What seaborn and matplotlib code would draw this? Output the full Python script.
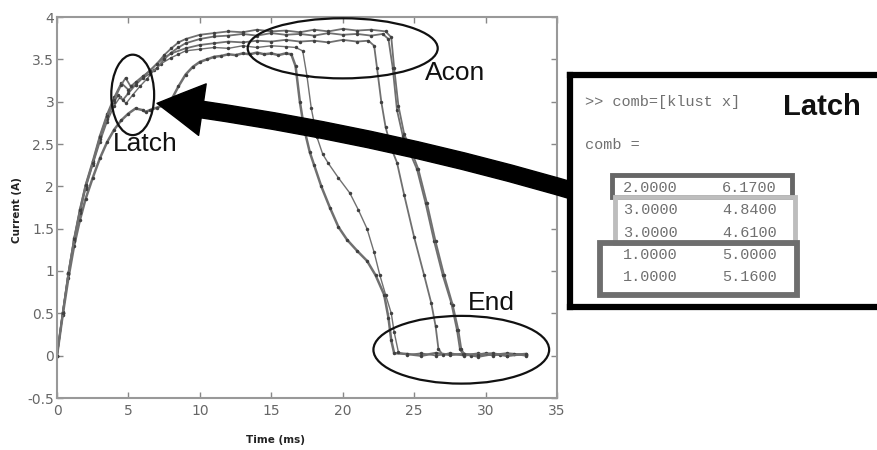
import numpy as np
import pandas as pd
import matplotlib.pyplot as plt
import seaborn as sns
from matplotlib.patches import Ellipse, Rectangle

# 1. Data (time in ms, current in A)

tail_t = [24.5, 25.5, 26.5, 27.5, 28.5, 29.5, 30.5, 31.5, 32.8]

# trace A - drops first (cluster 2, latch 6.17)
t_a = [0, 0.4, 0.8, 1.2, 1.6, 2.0, 2.5, 3.0, 3.5, 4.0, 4.5, 5.0, 5.5, 6.0, 6.2, 6.5,
       7.0, 7.5, 8.0, 8.5, 9.0, 9.5, 10.0, 10.5, 11.0, 11.5, 12.0, 12.5, 13.0, 13.5,
       14.0, 14.5, 15.0, 15.5, 16.0, 16.4, 16.7, 17.0, 17.3, 17.7, 18.0, 18.5, 19.1,
       19.7, 20.3, 21.0, 21.7, 22.3, 22.9, 23.2, 23.4, 23.6] + tail_t
i_a = [0, 0.48, 0.92, 1.30, 1.60, 1.85, 2.10, 2.33, 2.52, 2.67, 2.78, 2.86, 2.92, 2.90, 2.88, 2.90,
       2.93, 2.96, 3.02, 3.18, 3.32, 3.41, 3.47, 3.50, 3.53, 3.54, 3.56, 3.55, 3.57, 3.56,
       3.58, 3.56, 3.57, 3.55, 3.57, 3.56, 3.42, 3.00, 2.68, 2.40, 2.25, 2.00, 1.75,
       1.52, 1.37, 1.24, 1.12, 0.95, 0.72, 0.45, 0.18, 0.03] + [0.02, 0.0, 0.03, 0.01, 0.02, -0.01, 0.02, 0.0, 0.02]

# trace B - thin line (cluster 3, latch 4.84)
t_b = [0, 0.4, 0.8, 1.2, 1.6, 2.0, 2.5, 3.0, 3.5, 4.0, 4.4, 4.84, 5.3, 5.8, 6.3, 6.8,
       7.3, 8.0, 8.5, 9.0, 10.0, 11.0, 12.0, 13.0, 14.0, 15.0, 16.0, 16.7, 17.2, 17.5,
       17.8, 18.2, 18.6, 19.0, 19.7, 20.5, 21.1, 21.7, 22.2, 22.6, 23.0, 23.4, 23.6, 23.9] + tail_t
i_b = [0, 0.50, 0.96, 1.36, 1.68, 1.97, 2.25, 2.52, 2.76, 2.95, 3.05, 2.98, 3.08, 3.18, 3.27, 3.37,
       3.45, 3.52, 3.56, 3.60, 3.62, 3.64, 3.63, 3.66, 3.64, 3.66, 3.65, 3.64, 3.60, 3.30,
       2.92, 2.58, 2.38, 2.27, 2.10, 1.92, 1.72, 1.50, 1.22, 0.95, 0.72, 0.50, 0.28, 0.04] + [0.01, 0.03, 0.0, 0.02, 0.01, 0.03, 0.0, 0.02, 0.01]

# trace C (cluster 3, latch 4.61)
t_c = [0, 0.4, 0.8, 1.2, 1.6, 2.0, 2.5, 3.0, 3.5, 4.0, 4.3, 4.61, 5.0, 5.5, 6.0, 6.5,
       7.0, 7.5, 8.0, 9.0, 10.0, 11.0, 12.0, 13.0, 14.0, 15.0, 16.0, 17.0, 18.0, 19.0,
       20.0, 21.0, 21.8, 22.2, 22.4, 22.7, 23.0, 23.4, 23.8, 24.3, 25.0, 25.7, 26.2,
       26.5, 26.7, 27.0, 27.5, 28.5, 29.5, 30.5, 31.5, 32.8]
i_c = [0, 0.50, 0.97, 1.37, 1.70, 1.99, 2.27, 2.56, 2.80, 3.00, 3.08, 3.02, 3.10, 3.20, 3.29, 3.37,
       3.45, 3.52, 3.57, 3.63, 3.67, 3.69, 3.71, 3.70, 3.72, 3.71, 3.73, 3.71, 3.72, 3.70,
       3.73, 3.71, 3.72, 3.66, 3.40, 3.00, 2.70, 2.45, 2.28, 1.90, 1.40, 0.95, 0.62,
       0.35, 0.08, 0.01, 0.03, 0.0, 0.02, 0.01, 0.03, 0.01]

# trace D (cluster 1, latch 5.00)
t_d = [0, 0.4, 0.8, 1.2, 1.6, 2.0, 2.5, 3.0, 3.5, 4.0, 4.5, 5.0, 5.5, 6.0, 6.5, 7.0,
       7.5, 8.0, 8.5, 9.0, 10.0, 11.0, 12.0, 13.0, 14.0, 15.0, 16.0, 17.0, 18.0, 19.0,
       20.0, 21.0, 22.0, 22.8, 23.2, 23.5, 23.8, 24.2, 24.7, 25.2, 25.8, 26.4, 27.0,
       27.6, 28.0, 28.2, 28.4, 29.0, 30.0, 31.0, 32.0, 32.8]
i_d = [0, 0.51, 0.98, 1.39, 1.73, 2.02, 2.30, 2.60, 2.85, 3.05, 3.22, 3.14, 3.20, 3.28, 3.33, 3.40,
       3.50, 3.58, 3.64, 3.69, 3.74, 3.77, 3.78, 3.80, 3.78, 3.81, 3.79, 3.80, 3.78, 3.81,
       3.79, 3.80, 3.78, 3.80, 3.74, 3.40, 2.90, 2.60, 2.40, 2.20, 1.80, 1.35, 0.95,
       0.62, 0.30, 0.08, 0.02, 0.0, 0.03, 0.01, 0.02, 0.0]

# trace E (cluster 1, latch 5.16)
t_e = [0, 0.4, 0.8, 1.2, 1.6, 2.0, 2.5, 3.0, 3.5, 4.0, 4.5, 4.8, 5.16, 5.5, 6.0, 6.5,
       7.0, 7.5, 8.0, 8.5, 9.0, 10.0, 11.0, 12.0, 13.0, 14.0, 15.0, 16.0, 17.0, 18.0,
       19.0, 20.0, 21.0, 22.0, 23.0, 23.4, 23.6, 23.9, 24.3, 24.8, 25.3, 25.9, 26.5,
       27.1, 27.7, 28.1, 28.3, 28.5, 29.5, 30.5, 31.5, 32.8]
i_e = [0, 0.50, 0.98, 1.38, 1.72, 2.01, 2.28, 2.58, 2.83, 3.02, 3.20, 3.28, 3.18, 3.23, 3.30, 3.36,
       3.45, 3.55, 3.63, 3.70, 3.74, 3.79, 3.81, 3.83, 3.82, 3.85, 3.83, 3.84, 3.82, 3.85,
       3.83, 3.86, 3.84, 3.85, 3.83, 3.76, 3.40, 2.95, 2.62, 2.42, 2.20, 1.80, 1.35,
       0.95, 0.60, 0.30, 0.08, 0.02, 0.01, 0.03, 0.0, 0.02]

traces = [(t_a, i_a), (t_b, i_b), (t_c, i_c), (t_d, i_d), (t_e, i_e)]
trace_lw = [1.8, 1.0, 1.3, 1.3, 1.3]

x_ticks = [0, 5, 10, 15, 20, 25, 30, 35]
y_ticks = [-0.5, 0, 0.5, 1, 1.5, 2, 2.5, 3, 3.5, 4]

# inset: "comb = [klust x]" output
klust = ["2.0000", "3.0000", "3.0000", "1.0000", "1.0000"]
latch_x = ["6.1700", "4.8400", "4.6100", "5.0000", "5.1600"]

# 2. Figure
sns.set_theme(style="white")
plt.rcParams['font.family'] = ['DejaVu Sans']

fig = plt.figure(figsize=(8.78, 4.5), dpi=100)
ax = fig.add_axes([57 / 878, 1 - 398 / 450, 500 / 878, 381 / 450])

for (t, i), lw in zip(traces, trace_lw):
    sns.lineplot(x=t, y=i, ax=ax, sort=False, estimator=None, color='#707070',
                 linewidth=lw, marker='o', markersize=2.5, markeredgewidth=0,
                 markerfacecolor='#404040')

ax.set_xlim(0, 35)
ax.set_ylim(-0.5, 4)
ax.set_xticks(x_ticks)
ax.set_yticks(y_ticks)
ax.set_xticklabels([str(v) for v in x_ticks])
ax.set_yticklabels(['-0.5', '0', '0.5', '1', '1.5', '2', '2.5', '3', '3.5', '4'])
ax.tick_params(direction='in', length=4, width=1, color='#888888', labelcolor='#666666',
               labelsize=10, top=True, right=True, bottom=True, left=True)
ax.tick_params(axis='x', pad=4)
ax.tick_params(axis='y', pad=2)
for s in ax.spines.values():
    s.set_color('#999999')
    s.set_linewidth(1.5)

fig.text(17 / 878, 1 - 210 / 450, 'Current (A)', rotation=90, ha='center', va='center',
         fontsize=7.5, fontweight='bold', color='#222222')
fig.text(275 / 878, 1 - 440 / 450, 'Time (ms)', ha='center', va='center',
         fontsize=7.5, fontweight='bold', color='#222222')

# annotations on the curves
for cx, cy, w, h in [(5.3, 3.08, 3.0, 0.95), (20.0, 3.63, 13.3, 0.71), (28.3, 0.07, 12.3, 0.8)]:
    ax.add_patch(Ellipse((cx, cy), w, h, fill=False, ec='#111111', lw=1.6, zorder=5))

lbl_font = dict(family=['Liberation Sans', 'DejaVu Sans'], fontsize=19, color='#111111',
                ha='center', va='center', zorder=6)
ax.text(6.2, 2.5, 'Latch', **lbl_font)
ax.text(27.9, 3.34, 'Acon', **lbl_font)
ax.text(30.4, 0.62, 'End', **lbl_font)

ax.annotate('', xy=(7.0, 2.98), xycoords='data', xytext=(580, 450 - 193),
            textcoords='figure pixels', annotation_clip=False,
            arrowprops=dict(arrowstyle='simple,head_length=1.1,head_width=1.25,tail_width=0.4',
                            mutation_scale=30, color='black', shrinkA=0, shrinkB=0,
                            connectionstyle='arc3,rad=0.04'),
            zorder=10)

# 3. Inset with the cluster output (pixel-like coordinates)
ax2 = fig.add_axes([570 / 878, 1 - 307 / 450, 330 / 878, 232 / 450])
ax2.set_xlim(570, 900)
ax2.set_ylim(307, 75)
ax2.set_xticks([])
ax2.set_yticks([])
ax2.set_facecolor('white')
for s in ax2.spines.values():
    s.set_color('black')
    s.set_linewidth(4.5)

mono = dict(family=['Liberation Mono', 'DejaVu Sans Mono'], fontsize=11, color='#707070',
            va='center')
ax2.text(585, 102, '>> comb=[klust x]', ha='left', **mono)
ax2.text(585, 145, 'comb =', ha='left', **mono)
row_y = [188, 210, 233, 255, 277]
for k, v, y in zip(klust, latch_x, row_y):
    ax2.text(623, y, k, ha='left', **mono)
    ax2.text(777, y, v, ha='right', **mono)

ax2.text(822, 107, 'Latch', family=['Liberation Sans', 'DejaVu Sans'], fontsize=21,
         fontweight='bold', color='#111111', ha='center', va='center')

ax2.add_patch(Rectangle((612, 175), 180, 22, fill=False, ec='#666666', lw=3.5))
ax2.add_patch(Rectangle((615, 197), 180, 46, fill=False, ec='#bdbdbd', lw=3.5))
ax2.add_patch(Rectangle((600, 243), 197, 52, fill=False, ec='#6e6e6e', lw=4.2))

fig.savefig('out.png', dpi=100, facecolor='white')
